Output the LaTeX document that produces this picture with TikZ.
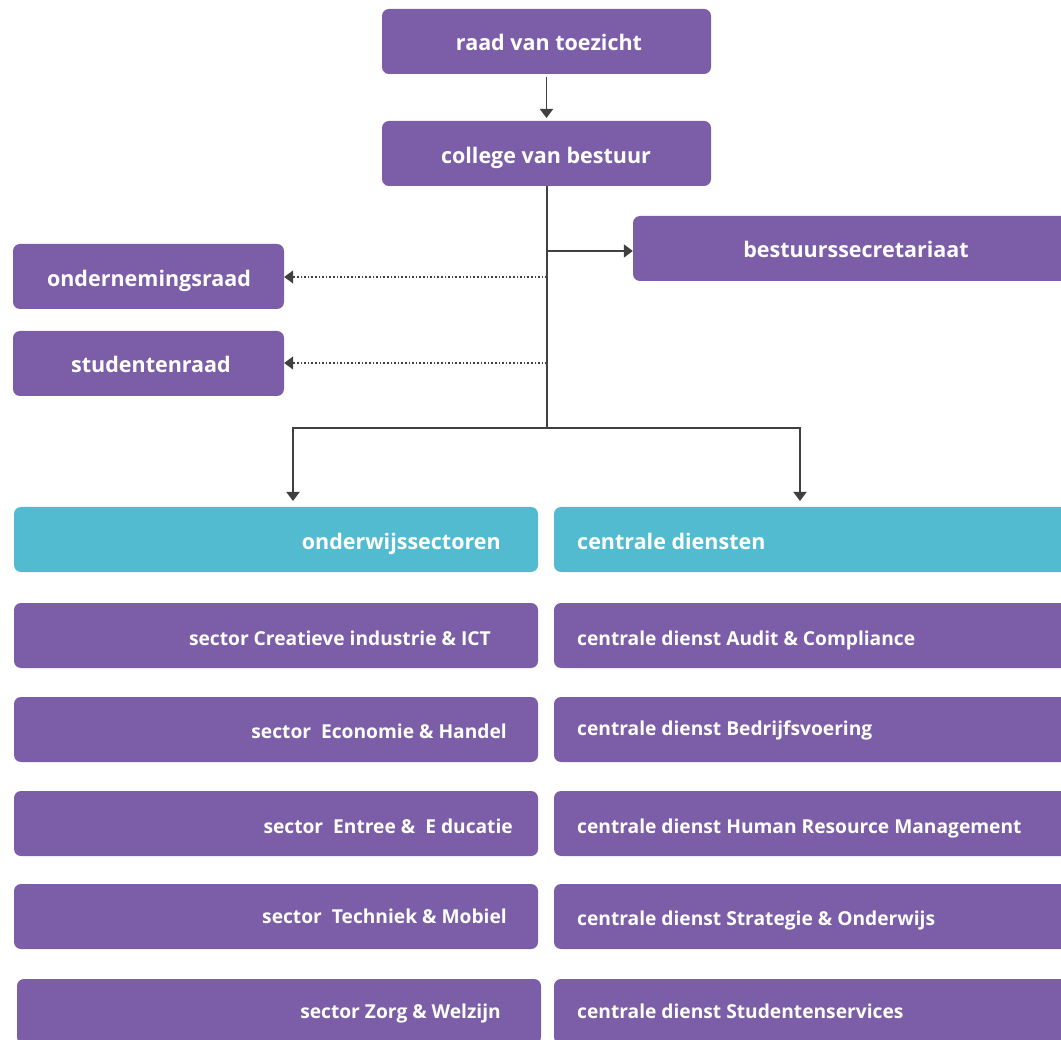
\documentclass[tikz,border=0pt]{standalone}
\usepackage{fontspec}
\setmainfont{Open Sans}
\usetikzlibrary{arrows.meta}
\definecolor{purp}{HTML}{7B5EA7}
\definecolor{cyanb}{HTML}{52BBCF}
\definecolor{lin}{HTML}{404040}
\tikzset{
  box/.style={fill=purp, rounded corners=7pt, minimum height=65pt, inner sep=0pt, draw=none},
  hbox/.style={fill=cyanb, rounded corners=7pt, minimum height=65pt, inner sep=0pt, draw=none},
  big/.style={text=white, font=\fontsize{21.5}{26}\selectfont\bfseries, inner sep=0pt, text height=20pt, text depth=3.6pt},
  small/.style={text=white, font=\fontsize{19.2}{23}\selectfont\bfseries, inner sep=0pt, text height=19pt, text depth=3.7pt},
  conn/.style={draw=lin, line width=1.8pt, -{Triangle[width=13pt,length=9pt]}},
  dconn/.style={draw=lin, line width=1.6pt, dotted, -{Triangle[width=13pt,length=9pt]}},
  plain/.style={draw=lin, line width=1.8pt}
}
\begin{document}
\begin{tikzpicture}[x=1pt,y=-1pt]
\useasboundingbox (0,0) rectangle (1061,1040);
\clip (0,0) rectangle (1061,1040);
% top boxes
\node[box, minimum width=329pt] (rvt) at (546.5,41.5) {};
\node[big] (trvt) at (549,42) {raad van toezicht};
\node[box, minimum width=329pt] (cvb) at (546.5,153.5) {};
\node[big] (tcvb) at (546,155) {college van bestuur};
\node[box, minimum width=450pt] (bs) at (858,248.5) {};
\node[big] (tbs) at (856,249) {bestuurssecretariaat};
\node[box, minimum width=271pt] (or) at (148.5,276.5) {};
\node[big] (tor) at (149,278) {ondernemingsraad};
\node[box, minimum width=271pt] (sr) at (148.5,363.5) {};
\node[big] (tsr) at (151,364) {studentenraad};
% header boxes
\node[hbox, minimum width=524pt] (ow) at (276,539.5) {};
\node[big, anchor=east] (tow) at (501,541) {onderwijssectoren};
\node[hbox, minimum width=530pt] (cd) at (819,539.5) {};
\node[big, anchor=west] (tcd) at (577,541) {centrale diensten};
% left column
\node[box, minimum width=524pt] (s1) at (276,635.5) {};
\node[small, anchor=east] (ts1) at (491,638) {sector Creatieve industrie \& ICT};
\node[box, minimum width=524pt] (s2) at (276,729.5) {};
\node[small, anchor=east] (ts2) at (507,731) {sector \ Economie \& Handel};
\node[box, minimum width=524pt] (s3) at (276,823.5) {};
\node[small, anchor=east] (ts3) at (513,826) {sector \ Entree \& \ E ducatie};
\node[box, minimum width=524pt] (s4) at (276,916.5) {};
\node[small, anchor=east] (ts4) at (507,916) {sector \ Techniek \& Mobiel};
\node[box, minimum width=524pt] (s5) at (279,1011.5) {};
\node[small, anchor=east] (ts5) at (501,1011) {sector Zorg \& Welzijn};
% right column
\node[box, minimum width=530pt] (c1) at (819,635.5) {};
\node[small, anchor=west] (tc1) at (577,638) {centrale dienst Audit \& Compliance};
\node[box, minimum width=530pt] (c2) at (819,729.5) {};
\node[small, anchor=west] (tc2) at (577,728) {centrale dienst Bedrijfsvoering};
\node[box, minimum width=530pt] (c3) at (819,823.5) {};
\node[small, anchor=west] (tc3) at (577,826) {centrale dienst Human Resource Management};
\node[box, minimum width=530pt] (c4) at (819,916.5) {};
\node[small, anchor=west] (tc4) at (577,918) {centrale dienst Strategie \& Onderwijs};
\node[box, minimum width=530pt] (c5) at (819,1011.5) {};
\node[small, anchor=west] (tc5) at (577,1011) {centrale dienst Studentenservices};
% connectors
\coordinate (a1) at (546.5,77);
\coordinate (a2) at (546.5,118);
\draw[conn] (a1) -- (a2);
\coordinate (j) at (547,428);
\coordinate (jb) at (547,251);
\coordinate (jo) at (547,277);
\coordinate (js) at (547,363);
\coordinate (l) at (293,428);
\coordinate (r) at (800,428);
\coordinate (le) at (293,501);
\coordinate (re) at (800,501);
\draw[plain] (cvb.south -| j) -- (j);
\draw[conn] (jb) -- (bs.west |- jb);
\draw[dconn] (jo) -- (or.east |- jo);
\draw[dconn] (js) -- (sr.east |- js);
\draw[conn] (j) -- (l) -- (le);
\draw[conn] (j) -- (r) -- (re);
\end{tikzpicture}
\end{document}
